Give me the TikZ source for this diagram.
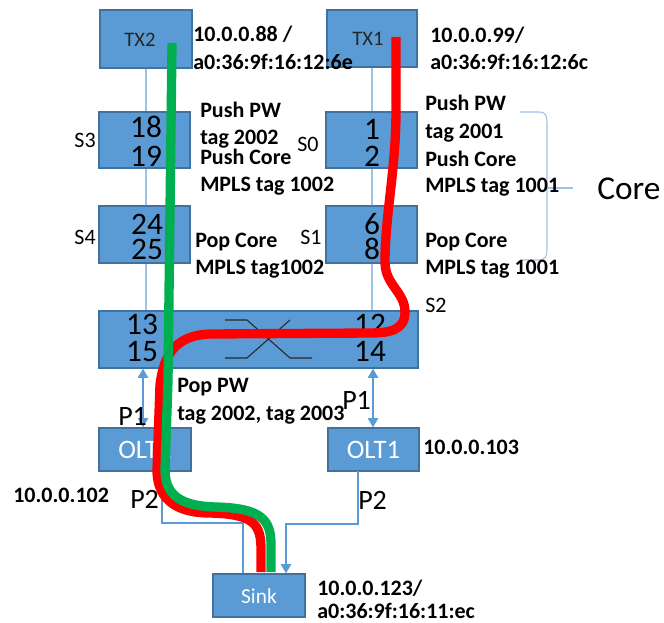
\documentclass[tikz,border=0pt]{standalone}
\usepackage{fontspec}
\setmainfont{Carlito}
\usetikzlibrary{arrows.meta,calc}
\definecolor{boxfill}{HTML}{5B9BD5}
\definecolor{boxborder}{HTML}{41719C}
\definecolor{thinblue}{HTML}{9DC3E6}
\definecolor{linkblue}{HTML}{5B9BD5}
\definecolor{pathred}{HTML}{FF0000}
\definecolor{pathgreen}{HTML}{00B050}
\begin{document}
\begin{tikzpicture}[x=0.75pt,y=-0.75pt,
  box/.style={draw=boxborder, fill=boxfill, line width=0.8pt, inner sep=0pt},
  lbl/.style={anchor=base west, inner sep=0pt, font=\fontsize{16.5}{18}\selectfont\bfseries, text=black},
  slbl/.style={anchor=base west, inner sep=0pt, font=\fontsize{16.5}{18}\selectfont, text=black},
  plbl/.style={anchor=base west, inner sep=0pt, font=\fontsize{21}{24}\selectfont, text=black},
  num/.style={anchor=base, inner sep=0pt, font=\fontsize{23.5}{26}\selectfont, text=black},
  thin/.style={draw=thinblue, line width=0.8pt},
  link/.style={draw=linkblue, line width=2pt},
  tip/.style={-{Triangle[width=7.5pt,length=7pt]}},
  dtip/.style={{Triangle[width=7.5pt,length=7pt]}-{Triangle[width=7.5pt,length=7pt]}},
  route/.style={line width=7pt}]
\useasboundingbox (0,0) rectangle (664,623);

% thin vertical lines behind the boxes
\coordinate (l2) at (146,68);
\coordinate (l1) at (372,67);
\draw[thin] (l2) -- (146,311);
\draw[thin] (l1) -- (372,311);

% boxes
\node[box, minimum width=69pt, minimum height=43.5pt] (tx2) at (146,39) {};
\node[box, minimum width=67.5pt, minimum height=42.75pt] (tx1) at (372,38.5) {};
\node[box, minimum width=68.25pt, minimum height=42pt] (s3) at (144.5,140) {};
\node[box, minimum width=68.25pt, minimum height=42.75pt] (s4) at (144.5,234.5) {};
\node[box, minimum width=68.25pt, minimum height=42pt] (s0) at (371.5,140) {};
\node[box, minimum width=68.25pt, minimum height=42.75pt] (s1) at (371.5,234.5) {};
\node[box, minimum width=239.25pt, minimum height=42.75pt] (s2) at (258.5,339.5) {};
\node[box, minimum width=69pt, minimum height=32.25pt] (olt2) at (145,449.5) {};
\node[box, minimum width=68.25pt, minimum height=32.25pt] (olt1) at (373.5,449.5) {};
\node[box, minimum width=69pt, minimum height=32.25pt] (sink) at (259,595.5) {};

% box texts
\node[inner sep=0pt, font=\fontsize{15.5}{17}\selectfont, text=black!85] (tx2t) at (140,40) {TX2};
\node[inner sep=0pt, font=\fontsize{15.5}{17}\selectfont, text=black!85] (tx1t) at (368,39) {TX1};
\node[inner sep=0pt, font=\fontsize{20}{22}\selectfont, text=white] (olt2t) at (145,450) {OLT2};
\node[inner sep=0pt, font=\fontsize{20}{22}\selectfont, text=white] (olt1t) at (373.5,450) {OLT1};
\node[inner sep=0pt, font=\fontsize{16}{18}\selectfont, text=white] (sinkt) at (259,596) {Sink};

\node[num] (n18) at (146,138) {18};
\node[num] (n19) at (146,167) {19};
\node[num] (n24) at (147,235) {24};
\node[num] (n25) at (147,260) {25};
\node[num] (n1) at (372,140) {1};
\node[num] (n2) at (372,167) {2};
\node[num] (n6) at (372,235) {6};
\node[num] (n8) at (372,260) {8};
\node[num] (n13) at (142,335) {13};
\node[num] (n15) at (142,362) {15};
\node[num] (n12) at (370,335) {12};
\node[num] (n14) at (370,362) {14};

% cross inside S2
\draw[black!85, line width=0.8pt] (225,320) -- (247,320) -- (290,358) -- (312,358);
\draw[black!85, line width=0.8pt] (225,358) -- (247,358) -- (290,320);

% links S2 <-> OLT
\draw[link, dtip] (olt2.north -| 143,0) -- (s2.south -| 143,0);
\draw[link, dtip] (olt1.north -| 373,0) -- (s2.south -| 373,0);

% OLT -> Sink
\coordinate (o2b) at (162,471);
\coordinate (o1b) at (358,471);
\draw[link] (o2b) -- (162,523) -- (243,523) -- (sink.north -| 243,0);
\draw[link, tip] (o1b) -- (358,524) -- (286,524) -- (sink.north -| 286,0);

% Core bracket
\draw[thin] (520,112) -- (539,112) .. controls (545,112) and (547,115) .. (547,122) -- (547,250) .. controls (547,257) and (545,260) .. (538,260) -- (522,260);
\draw[thin] (547,188) -- (573,188);

% routes
\draw[route, pathred] (396,37) -- (396,110) .. controls (396,170) and (385,215) .. (385,262)
  .. controls (385,285) and (405,292) .. (405,312) .. controls (405,330) and (390,333) .. (370,333)
  -- (210,334) .. controls (180,335) and (164,350) .. (160,385) -- (157,470)
  .. controls (157,502) and (180,513) .. (210,513) .. controls (255,514) and (261,525) .. (261,550) -- (261,572);
\draw[route, pathgreen] (172,43) -- (168,380) -- (165,470)
  .. controls (165,498) and (185,506) .. (215,507) .. controls (262,508) and (271,520) .. (271,545) -- (271,572);

% labels
\node[lbl] (a88) at (193,42) {10.0.0.88 /};
\node[lbl] (m88) at (193,70) {a0:36:9f:16:12:6e};
\node[lbl] (a99) at (430,43) {10.0.0.99/};
\node[lbl] (m99) at (430,70) {a0:36:9f:16:12:6c};

\node[lbl] (lp1) at (200,118) {Push PW};
\node[lbl] (lp2) at (200,145) {tag 2002};
\node[lbl] (lp3) at (200,165) {Push Core};
\node[lbl] (lp4) at (200,192) {MPLS tag 1002};
\node[lbl] (lp5) at (195,248) {Pop Core};
\node[lbl] (lp6) at (195,275) {MPLS tag1002};

\node[lbl] (rp1) at (425,111) {Push PW};
\node[lbl] (rp2) at (425,139) {tag 2001};
\node[lbl] (rp3) at (425,167) {Push Core};
\node[lbl] (rp4) at (425,193) {MPLS tag 1001};
\node[lbl] (rp5) at (425,248) {Pop Core};
\node[lbl] (rp6) at (425,275) {MPLS tag 1001};

\node[slbl, anchor=base east] (ls3) at (96,148) {S3};
\node[slbl, anchor=base east] (ls4) at (96,245) {S4};
\node[slbl] (ls0) at (297,152) {S0};
\node[slbl] (ls1) at (300,245) {S1};
\node[slbl] (ls2) at (425,313) {S2};
\node[anchor=base west, inner sep=0pt, font=\fontsize{25}{28}\selectfont] (core) at (597,200) {Core};

\node[lbl] (pw1) at (177,393) {Pop PW};
\node[lbl] (pw2) at (177,421) {tag 2002, tag 2003};
\node[plbl] (p1l) at (118,426) {P1};
\node[plbl] (p1r) at (342,410) {P1};
\node[plbl] (p2l) at (130,508) {P2};
\node[plbl] (p2r) at (358,509) {P2};
\node[lbl] (a103) at (423,455) {10.0.0.103};
\node[lbl] (a102) at (13,502) {10.0.0.102};
\node[lbl] (a123) at (317,595) {10.0.0.123/};
\node[lbl] (m123) at (317,618) {a0:36:9f:16:11:ec};
\end{tikzpicture}
\end{document}
